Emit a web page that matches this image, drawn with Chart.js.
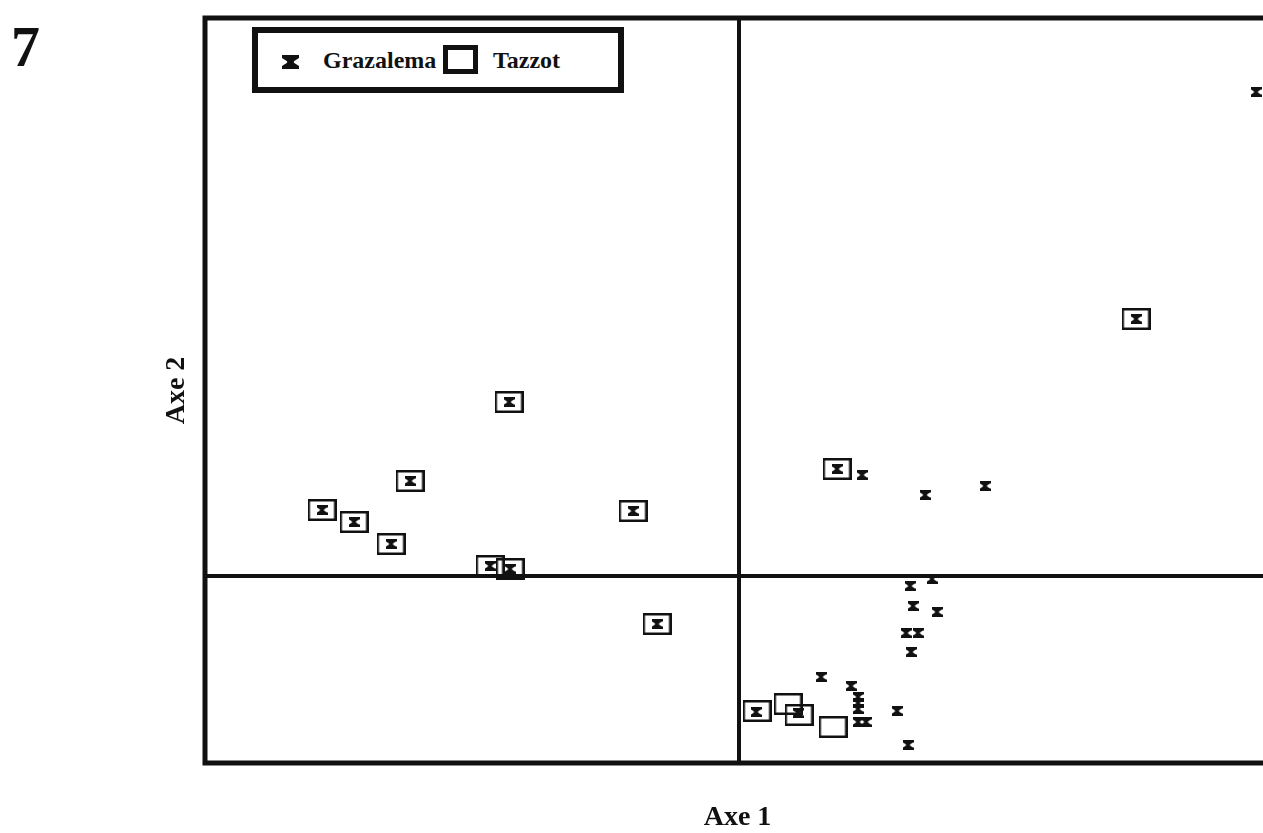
<!DOCTYPE html>
<html>
<head>
<meta charset="utf-8">
<script src="https://cdn.jsdelivr.net/npm/chart.js@4/dist/chart.umd.min.js"></script>
<style>
  html, body { margin: 0; padding: 0; background: #fff; overflow: hidden; }
  #wrap { position: relative; width: 1290px; height: 833px; }
  #fig { position: absolute; left: 11px; top: 18px; font: bold 58px 'Liberation Serif', 'DejaVu Serif', serif; line-height: 58px; color: #111; }
  #legend { position: absolute; left: 252px; top: 27px; width: 372px; height: 66px; box-sizing: border-box; border: 6px solid #111; background: #fff; }
  .lgtext { position: absolute; font: bold 24px 'Liberation Serif', serif; line-height: 24px; color: #111; white-space: nowrap; }
</style>
</head>
<body>
<div id="wrap">
  <canvas id="c"></canvas>
  <div id="fig">7</div>
  <div id="legend"></div>
</div>
<script>
// ---- data (Axe 1 / Axe 2 scores) ----
const seriesNames = ['Grazalema', 'Tazzot'];
const grazalemaX = [-2.30, -3.29, -4.17, -3.85, -3.48, -1.06, -2.49, -2.29, -0.82,
                    0.98, 1.23, 1.86, 2.46, 3.97, 5.17,
                    1.71, 1.93, 1.74, 1.98, 1.67, 1.79, 1.72, 0.82, 1.12,
                    1.19, 1.19, 1.19, 1.19, 1.27, 1.58, 1.69, 0.17, 0.59];
const grazalemaY = [1.74, 0.95, 0.66, 0.54, 0.32, 0.65, 0.10, 0.07, -0.48,
                    1.07, 1.01, 0.81, 0.90, 2.57, 4.84,
                    -0.10, -0.03, -0.30, -0.36, -0.57, -0.57, -0.76, -1.01, -1.10,
                    -1.21, -1.27, -1.33, -1.46, -1.46, -1.35, -1.69, -1.36, -1.37];
const tazzotX = [-2.30, -3.29, -4.17, -3.85, -3.48, -1.06, -2.49, -2.29, -0.82,
                 0.98, 3.97, 0.18, 0.49, 0.60, 0.94];
const tazzotY = [1.74, 0.95, 0.66, 0.54, 0.32, 0.65, 0.10, 0.07, -0.48,
                 1.07, 2.57, -1.35, -1.28, -1.39, -1.51];
const axisTitles = ['Axe 1', 'Axe 2'];
const xRange = [-5.34, 5.31];
const yRange = [-1.87, 5.58];

// ---- marker images ----
function hourglass(w, h) {
  const c = document.createElement('canvas');
  c.width = w; c.height = h;
  const g = c.getContext('2d');
  const bar = h * 0.22, neck = w * 0.2;
  g.fillStyle = '#111';
  g.beginPath();
  g.moveTo(0, 0); g.lineTo(w, 0); g.lineTo(w, bar);
  g.lineTo(w / 2 + neck, h / 2 - 0.8); g.lineTo(w / 2 + neck, h / 2 + 0.8);
  g.lineTo(w, h - bar); g.lineTo(w, h); g.lineTo(0, h); g.lineTo(0, h - bar);
  g.lineTo(w / 2 - neck, h / 2 + 0.8); g.lineTo(w / 2 - neck, h / 2 - 0.8);
  g.lineTo(0, bar); g.closePath();
  g.fill();
  return c;
}
function openBox(w, h, lw) {
  const c = document.createElement('canvas');
  c.width = w; c.height = h;
  const g = c.getContext('2d');
  g.strokeStyle = '#111'; g.lineWidth = lw;
  g.strokeRect(lw / 2, lw / 2, w - lw, h - lw);
  return c;
}
const xMark = hourglass(11, 10);
const boxMark = openBox(29, 22, 2.5);

const toPts = (xs, ys) => xs.map((x, i) => ({ x: x, y: ys[i] }));

const framePlugin = {
  id: 'frame',
  beforeDatasetsDraw(chart) {
    const { ctx, chartArea: a, scales } = chart;
    ctx.save();
    ctx.strokeStyle = '#111';
    ctx.lineWidth = 5;
    ctx.strokeRect(a.left, a.top, a.right - a.left, a.bottom - a.top);
    const x0 = scales.x.getPixelForValue(0);
    const y0 = scales.y.getPixelForValue(0);
    ctx.lineWidth = 4;
    ctx.beginPath();
    ctx.moveTo(x0, a.top); ctx.lineTo(x0, a.bottom);
    ctx.moveTo(a.left, y0); ctx.lineTo(a.right, y0);
    ctx.stroke();
    ctx.restore();
  }
};

const titleFont = { family: "'Liberation Serif', serif", weight: 'bold', size: 28, lineHeight: 1 };

const chart = new Chart(document.getElementById('c'), {
  type: 'scatter',
  data: {
    datasets: [
      { label: seriesNames[0], data: toPts(grazalemaX, grazalemaY), pointStyle: xMark, pointRadius: 5, clip: false },
      { label: seriesNames[1], data: toPts(tazzotX, tazzotY), pointStyle: boxMark, pointRadius: 12, clip: false }
    ]
  },
  options: {
    responsive: true,
    maintainAspectRatio: false,
    animation: false,
    events: [],
    layout: { padding: { top: 18, right: 20, bottom: 0, left: 0 } },
    plugins: { legend: { display: false }, tooltip: { enabled: false } },
    scales: {
      x: {
        type: 'linear', min: xRange[0], max: xRange[1],
        grid: { display: false }, border: { display: false }, ticks: { display: false },
        title: { display: true, text: axisTitles[0], color: '#111', font: titleFont, padding: { top: 0, bottom: 1 } },
        afterFit(s) { s.height = 70; }
      },
      y: {
        type: 'linear', min: yRange[0], max: yRange[1],
        grid: { display: false }, border: { display: false }, ticks: { display: false },
        title: { display: true, text: axisTitles[1], color: '#111', font: titleFont, padding: { top: 163, bottom: 0 } },
        afterFit(s) { s.width = 205; }
      }
    }
  },
  plugins: [framePlugin]
});

// ---- legend built from the datasets ----
(function buildLegend() {
  const lg = document.getElementById('legend');
  const ds = chart.data.datasets;
  const s1 = hourglass(17, 14);
  s1.style.cssText = 'position:absolute;left:24px;top:22px;';
  lg.appendChild(s1);
  const t1 = document.createElement('div');
  t1.className = 'lgtext'; t1.textContent = ds[0].label;
  t1.style.left = '65px'; t1.style.top = '15px';
  lg.appendChild(t1);
  const s2 = openBox(35, 29, 5);
  s2.style.cssText = 'position:absolute;left:185px;top:12px;';
  lg.appendChild(s2);
  const t2 = document.createElement('div');
  t2.className = 'lgtext'; t2.textContent = ds[1].label;
  t2.style.left = '235px'; t2.style.top = '15px';
  lg.appendChild(t2);
})();
</script>
</body>
</html>
